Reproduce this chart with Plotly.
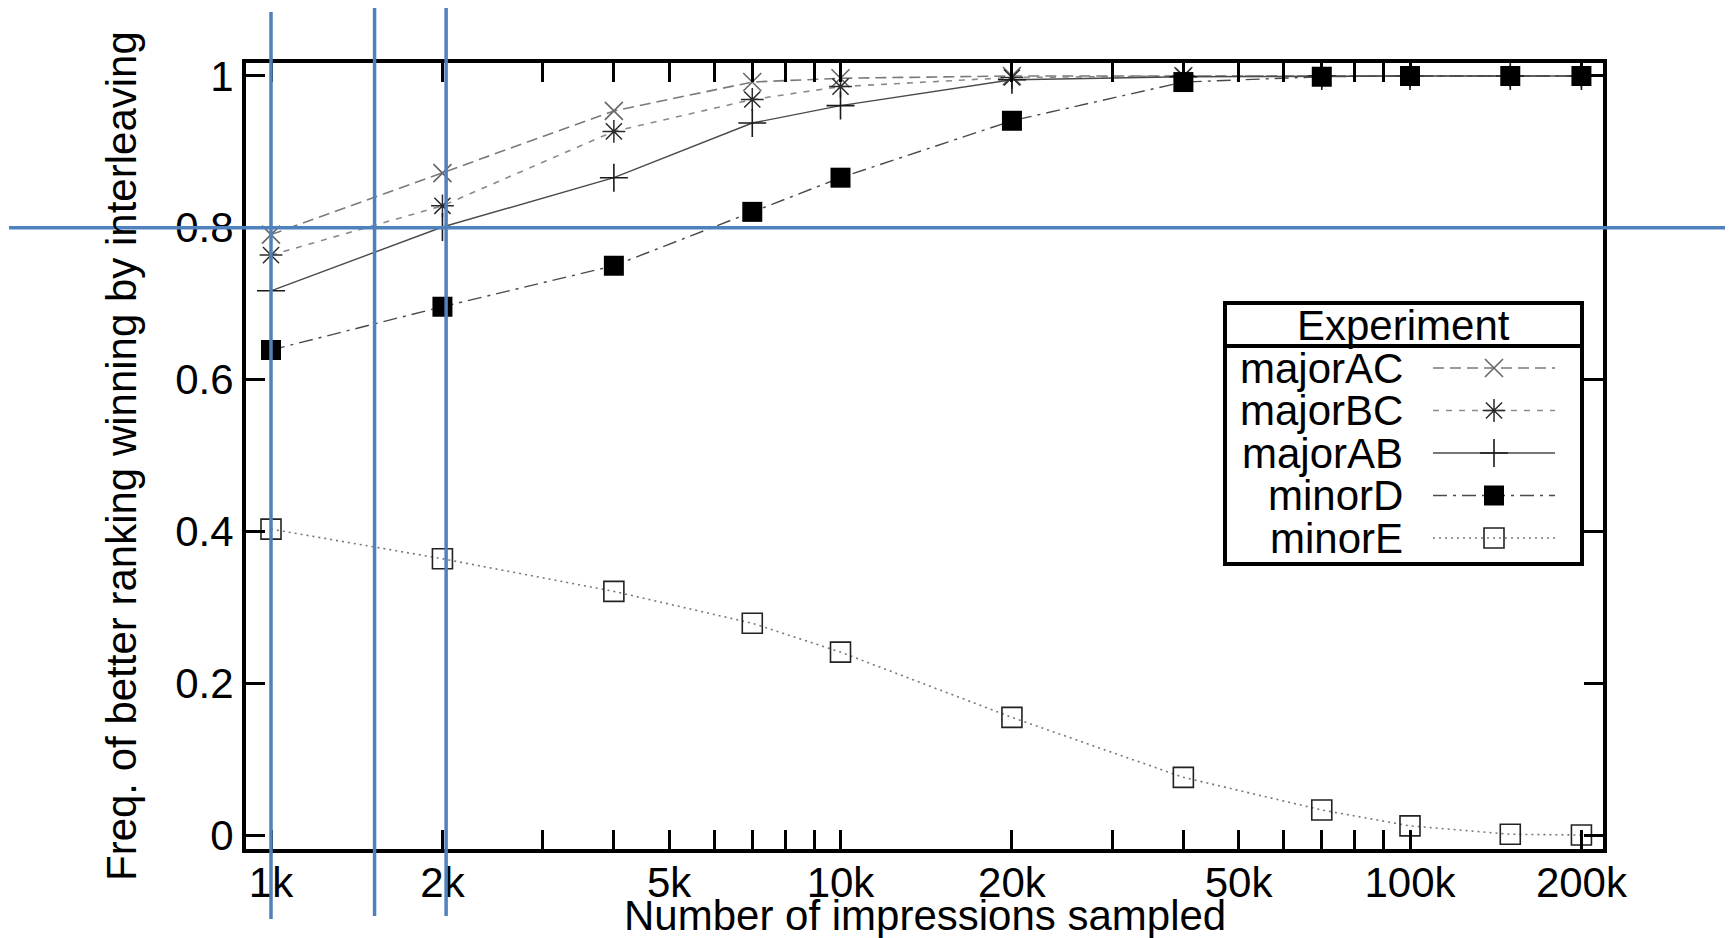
import plotly.graph_objects as go

# ---------------- data ----------------
impressions = [1000, 2000, 4000, 7000, 10000, 20000, 40000, 70000, 100000, 150000, 200000]
majorAC = [0.791, 0.872, 0.954, 0.992, 0.997, 1.0, 1.0, 1.0, 1.0, 1.0, 1.0]
majorBC = [0.764, 0.829, 0.927, 0.969, 0.986, 0.998, 1.0, 1.0, 1.0, 1.0, 1.0]
majorAB = [0.717, 0.801, 0.866, 0.938, 0.961, 0.995, 0.999, 1.0, 1.0, 1.0, 1.0]
minorD = [0.639, 0.696, 0.750, 0.821, 0.866, 0.941, 0.992, 0.999, 1.0, 1.0, 1.0]
minorE = [0.403, 0.364, 0.321, 0.279, 0.241, 0.155, 0.076, 0.033, 0.012, 0.001, 0.0]

series_names = ["majorAC", "majorBC", "majorAB", "minorD", "minorE"]
series_values = [majorAC, majorBC, majorAB, minorD, minorE]

x_tick_values = [1000, 2000, 3000, 4000, 5000, 6000, 7000, 8000, 9000,
                 10000, 20000, 30000, 40000, 50000, 60000, 70000, 80000, 90000,
                 100000, 200000]
x_tick_labels = {1000: "1k", 2000: "2k", 5000: "5k", 10000: "10k", 20000: "20k",
                 50000: "50k", 100000: "100k", 200000: "200k"}
y_tick_values = [0, 0.2, 0.4, 0.6, 0.8, 1]
y_tick_labels = ["0", "0.2", "0.4", "0.6", "0.8", "1"]

x_title = "Number of impressions sampled"
y_title = "Freq. of better ranking winning by interleaving"
legend_title = "Experiment"

# blue overlay guide lines (as drawn on the reference)
guide_x = [1000, 1520, 2030]
guide_y = 0.8

# ---------------- styles ----------------
FONT = "Liberation Sans, Arial, Helvetica, sans-serif"
FS = 42
styles = {
    "majorAC": dict(line=dict(color="#7a7a7a", width=1.6, dash="11px,6px"),
                    marker=dict(symbol="x-thin-open", size=18, color="#666666",
                                line=dict(color="#666666", width=1.6))),
    "majorBC": dict(line=dict(color="#8a8a8a", width=1.6, dash="6px,7px"),
                    marker=dict(symbol="asterisk-open", size=19, color="#2a2a2a",
                                line=dict(color="#2a2a2a", width=1.5))),
    "majorAB": dict(line=dict(color="#4a4a4a", width=1.4),
                    marker=dict(symbol="cross-thin-open", size=20, color="#1a1a1a",
                                line=dict(color="#1a1a1a", width=1.6))),
    "minorD": dict(line=dict(color="#4a4a4a", width=1.4, dash="14px,6px,3px,6px"),
                   marker=dict(symbol="square", size=20, color="#000000",
                               line=dict(color="#000000", width=0))),
    "minorE": dict(line=dict(color="#777777", width=1.6, dash="2px,4px"),
                   marker=dict(symbol="square-open", size=20, color="#222222",
                               line=dict(color="#222222", width=1.6))),
}

fig = go.Figure()
for name, vals in zip(series_names, series_values):
    st = styles[name]
    fig.add_trace(go.Scatter(x=impressions, y=vals, name=name, mode="lines+markers",
                             line=st["line"], marker=st["marker"], showlegend=False,
                             xaxis="x", yaxis="y"))

# ---------------- layout geometry (pixels) ----------------
W, H = 1733, 938
L, R, T, B = 246, 1603, 63, 849   # plot-area edges in pixels
x_log_lo, x_log_hi = 2.9561, 5.3389
y_lo, y_hi = -0.0184, 1.0171

def px_to_paper_x(px):
    return (px - L) / (R - L)

def px_to_paper_y(py):
    return (B - py) / (B - T)

# ---------------- custom legend (pixel coords via hidden overlay axes) ----------------
leg_x0, leg_x1, leg_y0, leg_y1, leg_sep = 1225, 1582, 303, 564, 346
row_y = [368, 410.5, 453, 495.5, 538]
sample_x0, sample_x1, sample_xm, text_right = 1433, 1555, 1494, 1405

for name, ry in zip(series_names, row_y):
    st = styles[name]
    fig.add_trace(go.Scatter(x=[sample_x0, sample_x1], y=[ry, ry], mode="lines",
                             line=st["line"], showlegend=False, hoverinfo="skip",
                             xaxis="x2", yaxis="y2"))
    fig.add_trace(go.Scatter(x=[sample_xm], y=[ry], mode="markers",
                             marker=st["marker"], showlegend=False, hoverinfo="skip",
                             xaxis="x2", yaxis="y2"))

shapes = [
    dict(type="rect", xref="x2", yref="y2", x0=leg_x0, x1=leg_x1, y0=leg_y0, y1=leg_y1,
         line=dict(color="black", width=4), layer="below", fillcolor="white"),
    dict(type="line", xref="x2", yref="y2", x0=leg_x0, x1=leg_x1, y0=leg_sep, y1=leg_sep,
         line=dict(color="black", width=4)),
]
# blue guide lines
BLUE = "#4f81bd"
guide_top = [12, 8, 8]
guide_bot = [919, 916, 916]
for gx, gt, gb in zip(guide_x, guide_top, guide_bot):
    shapes.append(dict(type="line", xref="x", yref="paper", x0=gx, x1=gx,
                       y0=px_to_paper_y(gb), y1=px_to_paper_y(gt),
                       line=dict(color=BLUE, width=3.5), layer="above"))
shapes.append(dict(type="line", xref="paper", yref="y", x0=px_to_paper_x(9),
                   x1=px_to_paper_x(1725), y0=guide_y, y1=guide_y,
                   line=dict(color=BLUE, width=3.5), layer="above"))

annotations = [
    dict(text=legend_title, xref="x2", yref="y2", x=(leg_x0 + leg_x1) / 2, y=325,
         showarrow=False, xanchor="center", yanchor="middle",
         font=dict(family=FONT, size=FS, color="black")),
    dict(text=y_title, xref="paper", yref="paper", x=px_to_paper_x(121), y=0.5,
         textangle=-90, showarrow=False, xanchor="center", yanchor="middle",
         font=dict(family=FONT, size=FS, color="black")),
    dict(text=x_title, xref="paper", yref="paper", x=0.5, y=px_to_paper_y(915),
         showarrow=False, xanchor="center", yanchor="middle",
         font=dict(family=FONT, size=FS, color="black")),
]
for name, ry in zip(series_names, row_y):
    annotations.append(dict(text=name, xref="x2", yref="y2", x=text_right, y=ry,
                            showarrow=False, xanchor="right", yanchor="middle",
                            font=dict(family=FONT, size=FS, color="black")))

fig.update_layout(
    width=W, height=H,
    margin=dict(l=L, r=W - R, t=T, b=H - B, pad=0),
    paper_bgcolor="white", plot_bgcolor="white",
    font=dict(family=FONT, size=FS, color="black"),
    showlegend=False,
    xaxis=dict(type="log", range=[x_log_lo, x_log_hi], tickmode="array",
               tickvals=x_tick_values,
               ticktext=[x_tick_labels.get(v, "") for v in x_tick_values],
               ticks="inside", ticklen=19, tickwidth=3, tickcolor="black",
               showline=True, linewidth=4, linecolor="black", mirror="ticks",
               showgrid=False, zeroline=False, automargin=False,
               ticklabelstandoff=-6,
               tickfont=dict(family=FONT, size=FS, color="black")),
    yaxis=dict(range=[y_lo, y_hi], tickmode="array", tickvals=y_tick_values,
               ticktext=y_tick_labels,
               ticks="inside", ticklen=19, tickwidth=3, tickcolor="black",
               showline=True, linewidth=4, linecolor="black", mirror="ticks",
               showgrid=False, zeroline=False, automargin=False,
               tickfont=dict(family=FONT, size=FS, color="black")),
    xaxis2=dict(overlaying="x", range=[L, R], visible=False, anchor="y2",
                showgrid=False, zeroline=False),
    yaxis2=dict(overlaying="y", range=[B, T], visible=False, anchor="x2",
                showgrid=False, zeroline=False),
    shapes=shapes,
    annotations=annotations,
)

fig.write_html("out.html")
